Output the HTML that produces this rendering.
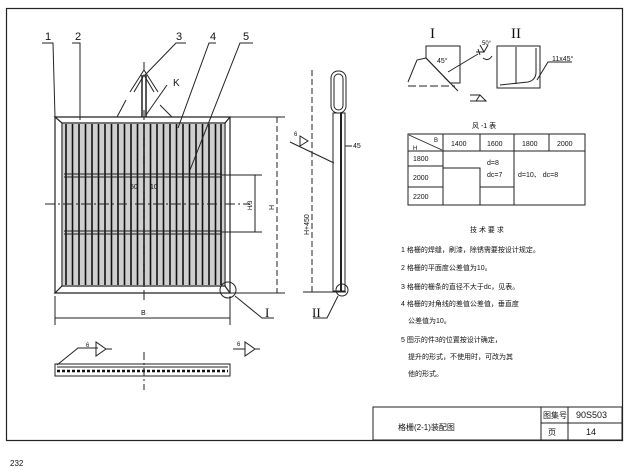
<!DOCTYPE html>
<html><head><meta charset="utf-8"><style>
body{margin:0;background:#fff}
svg{display:block;font-family:"Liberation Sans","Noto Sans CJK SC",sans-serif}
</style></head><body>
<svg width="639" height="475" viewBox="0 0 639 475" xmlns="http://www.w3.org/2000/svg">
<rect width="639" height="475" fill="#fff"/>
<g fill="none" stroke="#222" stroke-width="1.2">
<rect x="6.5" y="8.5" width="616" height="432"/>
<path d="M55 117 L230 117 L225 123 L62 123 Z"/>
<path d="M55 293 L230 293 L225 286 L62 286 Z"/>
<line x1="55" y1="117" x2="55" y2="293"/>
<line x1="230" y1="117" x2="230" y2="293"/>
<line x1="62" y1="123" x2="62" y2="286"/>
<line x1="225" y1="123" x2="225" y2="286"/>
</g>
<rect x="63" y="124" width="161" height="161" fill="#cfcfcf"/>
<g stroke="#111" stroke-width="1.6">
<line x1="66" y1="124" x2="66" y2="285"/><line x1="72.5" y1="124" x2="72.5" y2="285"/><line x1="79" y1="124" x2="79" y2="285"/><line x1="85.5" y1="124" x2="85.5" y2="285"/><line x1="92" y1="124" x2="92" y2="285"/><line x1="98.5" y1="124" x2="98.5" y2="285"/><line x1="105" y1="124" x2="105" y2="285"/><line x1="111.5" y1="124" x2="111.5" y2="285"/><line x1="118" y1="124" x2="118" y2="285"/><line x1="124.5" y1="124" x2="124.5" y2="285"/><line x1="131" y1="124" x2="131" y2="285"/><line x1="137.5" y1="124" x2="137.5" y2="285"/><line x1="144" y1="124" x2="144" y2="285"/><line x1="150.5" y1="124" x2="150.5" y2="285"/><line x1="157" y1="124" x2="157" y2="285"/><line x1="163.5" y1="124" x2="163.5" y2="285"/><line x1="170" y1="124" x2="170" y2="285"/><line x1="176.5" y1="124" x2="176.5" y2="285"/><line x1="183" y1="124" x2="183" y2="285"/><line x1="189.5" y1="124" x2="189.5" y2="285"/><line x1="196" y1="124" x2="196" y2="285"/><line x1="202.5" y1="124" x2="202.5" y2="285"/><line x1="209" y1="124" x2="209" y2="285"/><line x1="215.5" y1="124" x2="215.5" y2="285"/><line x1="221" y1="124" x2="221" y2="285"/>
</g>
<g stroke="#222" stroke-width="1" fill="none">
<line x1="64" y1="174" x2="222" y2="174"/><line x1="64" y1="177" x2="222" y2="177"/>
<line x1="64" y1="231" x2="222" y2="231"/><line x1="64" y1="234" x2="222" y2="234"/>
<line x1="222" y1="175" x2="262" y2="175"/><line x1="222" y1="232" x2="262" y2="232"/>
<line x1="255" y1="175" x2="255" y2="232"/>
<line x1="45" y1="204" x2="250" y2="204" stroke-dasharray="10 3 2 3"/>
<line x1="144" y1="110" x2="144" y2="300" stroke-dasharray="10 3 2 3"/>
<line x1="142" y1="75" x2="142" y2="117" stroke-width="1.5"/><line x1="146" y1="75" x2="146" y2="117" stroke-width="1.5"/>
<path d="M130 92 L144 70 L158 92"/><path d="M134 92 L144 75 L154 92"/>
<line x1="144" y1="62" x2="144" y2="70"/>
<line x1="117" y1="117" x2="126" y2="100"/><line x1="160" y1="105" x2="172" y2="117"/>
<polyline points="42,43 53,43 55,117"/><polyline points="72,43 80,43 80,120"/>
<polyline points="186,43 176,43 145,75"/><polyline points="216,43 209,43 178,128"/>
<polyline points="253,43 240,43 190,170"/>
<line x1="167" y1="85" x2="146" y2="115"/>
<line x1="230" y1="117" x2="285" y2="117"/><line x1="230" y1="293" x2="285" y2="293"/>
<line x1="277" y1="117" x2="277" y2="293" stroke-dasharray="6 3"/>
<line x1="55" y1="296" x2="55" y2="325"/><line x1="230" y1="296" x2="230" y2="325"/>
<line x1="55" y1="318" x2="230" y2="318"/>
<circle cx="228" cy="290" r="8"/>
<polyline points="235,296 262,318 274,318"/>
<rect x="331" y="71" width="15" height="42" rx="7"/>
<rect x="334" y="74" width="9" height="36" rx="4.5"/>
<rect x="333" y="113" width="12" height="178"/>
<line x1="341" y1="113" x2="341" y2="291" stroke-width="2"/>
<line x1="312" y1="70" x2="312" y2="292" stroke-dasharray="6 3"/>
<line x1="303" y1="292" x2="346" y2="292"/>
<circle cx="342" cy="290" r="6"/>
<polyline points="338,296 327,318 313,318"/>
<line x1="290" y1="142" x2="334" y2="163"/>
<line x1="345" y1="146" x2="352" y2="146"/>
<rect x="55" y="364" width="175" height="12"/>
<line x1="57" y1="367" x2="228" y2="367"/>
<line x1="57" y1="371" x2="228" y2="371" stroke="#111" stroke-width="2.5" stroke-dasharray="3 2"/>
<line x1="144" y1="352" x2="144" y2="390" stroke-dasharray="8 3 2 3"/>
<polyline points="57,365 78,348 98,348"/>
<path d="M96 342 L96 356 L106 349 Z M106 349 L112 349"/>
<path d="M245 342 L245 356 L255 349 Z M255 349 L260 349 M233 349 L245 349"/>
<path d="M300 136 L300 146 L308 141 Z"/>
<path d="M426 46 L460 46 L460 83 L450 83 L426 58 Z"/>
<path d="M408 82 L417 60 L426 58"/>
<line x1="408" y1="86" x2="455" y2="86" stroke-dasharray="8 3"/>
<line x1="426" y1="58" x2="458" y2="91"/>
<line x1="448" y1="72" x2="478" y2="54"/>
<path d="M476 52 L484 52 M478 49 L480 55 M480 45 L484 52 L488 45 M483 58 Q488 62 492 56"/>
<path d="M470 95 L480 95 L486 101 L470 101 M476 101 L480 95"/>
<rect x="497" y="46" width="43" height="42"/>
<line x1="516" y1="47" x2="516" y2="84"/>
<path d="M500 85 L528 82 Q536 80 536 72 L536 48"/>
<polyline points="537,80 548,62 572,62"/>
<rect x="408" y="134" width="177" height="71"/>
<line x1="408" y1="151" x2="585" y2="151"/>
<line x1="408" y1="166" x2="443" y2="166"/>
<line x1="408" y1="187" x2="443" y2="187"/>
<line x1="443" y1="134" x2="443" y2="205"/>
<line x1="480" y1="134" x2="480" y2="151"/>
<line x1="514" y1="134" x2="514" y2="205"/>
<line x1="549" y1="134" x2="549" y2="151"/>
<polyline points="443,168 480,168 480,205"/>
<line x1="480" y1="187" x2="514" y2="187"/>
<line x1="409" y1="135" x2="442" y2="150" stroke-width="0.8"/>
<rect x="373" y="407" width="249" height="33"/>
<line x1="541" y1="407" x2="541" y2="440"/><line x1="568" y1="407" x2="568" y2="440"/>
<line x1="541" y1="423" x2="622" y2="423"/>
</g>
<g font-size="9" fill="#111">
<text x="45" y="40" font-size="11">1</text><text x="75" y="40" font-size="11">2</text>
<text x="176" y="40" font-size="11">3</text><text x="210" y="40" font-size="11">4</text><text x="243" y="40" font-size="11">5</text>
<text x="173" y="86" font-size="10">K</text>
<text x="130" y="189" font-size="7">50</text><text x="150" y="189" font-size="7">10</text>
<text x="141" y="315" font-size="7">B</text>
<text x="274" y="210" font-size="7" transform="rotate(-90 274 210)">H</text>
<text x="314" y="240" font-size="7" transform="rotate(-90 309 240)">H+450</text>
<text x="252" y="210" font-size="6" transform="rotate(-90 252 210)">H/3</text>
<text x="265" y="317" font-size="13" font-family="Liberation Serif">I</text>
<text x="312" y="317" font-size="13" font-family="Liberation Serif">II</text>
<text x="294" y="136" font-size="6">6</text><text x="353" y="148" font-size="7">45</text>
<text x="86" y="347" font-size="6">6</text><text x="237" y="346" font-size="6">6</text>
<text x="430" y="38" font-size="15" font-family="Liberation Serif">I</text>
<text x="511" y="38" font-size="15" font-family="Liberation Serif">II</text>
<text x="437" y="63" font-size="7">45°</text><text x="482" y="45" font-size="6">50°</text>
<text x="552" y="61" font-size="7">11x45°</text>
<text x="472" y="128" font-size="7">风 -1 表</text>
<text x="413" y="150" font-size="6">H</text><text x="434" y="142" font-size="6">B</text>
<text x="451" y="146" font-size="7">1400</text><text x="487" y="146" font-size="7">1600</text>
<text x="522" y="146" font-size="7">1800</text><text x="557" y="146" font-size="7">2000</text>
<text x="413" y="161" font-size="7">1800</text><text x="413" y="180" font-size="7">2000</text><text x="413" y="199" font-size="7">2200</text>
<text x="487" y="165" font-size="7">d=8</text><text x="487" y="177" font-size="7">dc=7</text>
<text x="518" y="177" font-size="7">d=10、 dc=8</text>
<text x="470" y="232" font-size="7">技 术 要 求</text>
<text x="401" y="252" font-size="7">1 格栅的焊缝，刷漆，除锈需要按设计规定。</text>
<text x="401" y="270" font-size="7">2 格栅的平面度公差值为10。</text>
<text x="401" y="289" font-size="7">3 格栅的栅条的直径不大于dc，见表。</text>
<text x="401" y="306" font-size="7">4 格栅的对角线的差值公差值，垂直度</text>
<text x="408" y="323" font-size="7">公差值为10。</text>
<text x="401" y="342" font-size="7">5 图示的件3的位置按设计确定，</text>
<text x="408" y="359" font-size="7">提升的形式，不使用时，可改为其</text>
<text x="408" y="376" font-size="7">他的形式。</text>
<text x="398" y="430" font-size="8">格栅(2-1)装配图</text>
<text x="543" y="418" font-size="8">图集号</text><text x="576" y="418" font-size="9">90S503</text>
<text x="548" y="435" font-size="8">页</text><text x="586" y="435" font-size="9">14</text>
<text x="10" y="466" font-size="8">232</text>
</g>
</svg>
</body></html>
